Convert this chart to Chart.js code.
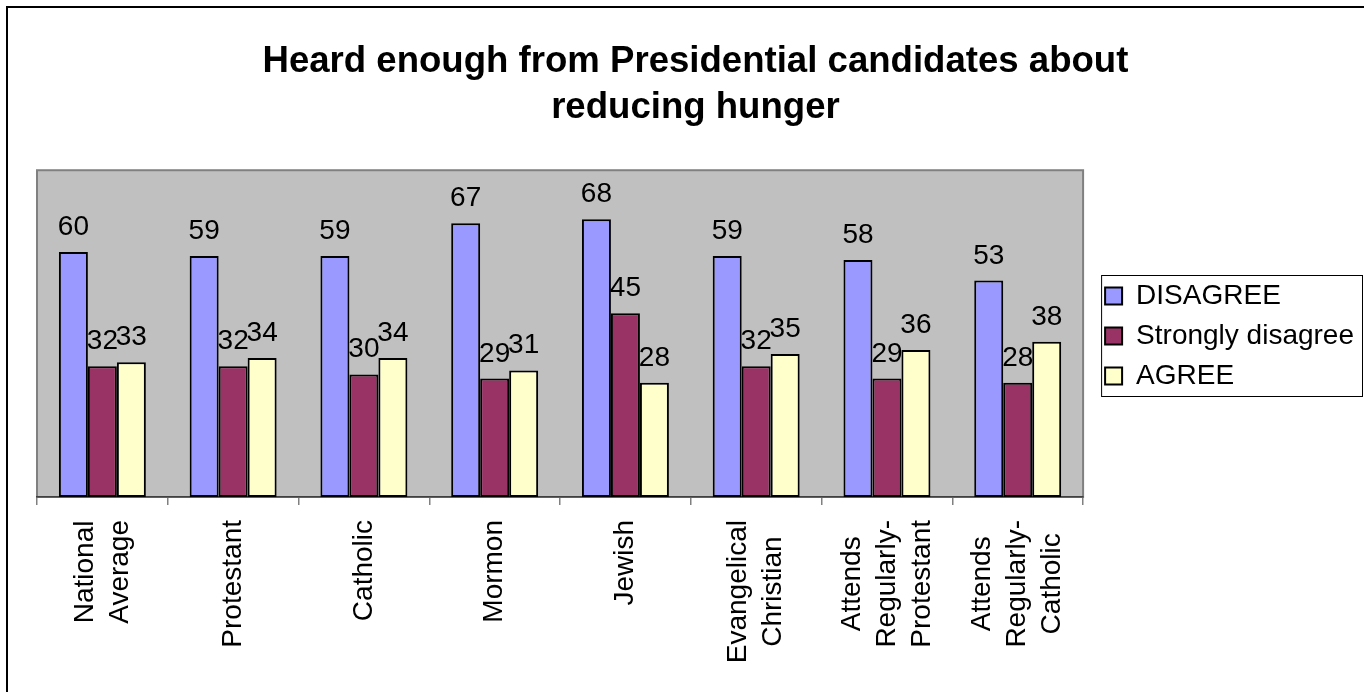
<!DOCTYPE html>
<html>
<head>
<meta charset="utf-8">
<title>Heard enough from Presidential candidates about reducing hunger</title>
<script src="https://cdn.jsdelivr.net/npm/chart.js@4.4.1/dist/chart.umd.min.js"></script>
<style>
  html, body { margin: 0; padding: 0; background: #fff; }
  #wrap { width: 1364px; height: 692px; }
</style>
</head>
<body>
<div id="wrap"><canvas id="chart" width="1364" height="692"></canvas></div>
<script>
const categories = [
    ['National', 'Average'],
    ['Protestant'],
    ['Catholic'],
    ['Mormon'],
    ['Jewish'],
    ['Evangelical', 'Christian'],
    ['Attends', 'Regularly-', 'Protestant'],
    ['Attends', 'Regularly-', 'Catholic']
];
const seriesNames = ['DISAGREE', 'Strongly disagree', 'AGREE'];
const disagree = [60, 59, 59, 67, 68, 59, 58, 53];
const stronglyDisagree = [32, 32, 30, 29, 45, 32, 29, 28];
const agree = [33, 34, 34, 31, 28, 35, 36, 38];
const titleLines = ['Heard enough from Presidential candidates about', 'reducing hunger'];

const FONT = "'Liberation Sans', Arial, sans-serif";

// frame, grey plot area
const backdrop = {
    id: 'backdrop',
    beforeDraw(chart) {
        const { ctx, chartArea: a } = chart;
        ctx.save();
        ctx.fillStyle = '#fff';
        ctx.fillRect(0, 0, chart.width, chart.height);
        ctx.strokeStyle = '#000';
        ctx.lineWidth = 2;
        ctx.beginPath();
        ctx.moveTo(7, chart.height);
        ctx.lineTo(7, 7);
        ctx.lineTo(chart.width, 7);
        ctx.stroke();
        ctx.fillStyle = '#C0C0C0';
        ctx.fillRect(a.left, a.top, a.right - a.left, a.bottom - a.top);
        ctx.strokeStyle = '#808080';
        ctx.lineWidth = 2;
        ctx.strokeRect(a.left, a.top, a.right - a.left, a.bottom - a.top);
        ctx.restore();
    },
    // legend sits a little higher than chart.js centres it
    afterLayout(chart) {
        if (chart.legend) {
            chart.legend.top -= 10;
            chart.legend.bottom -= 10;
        }
    }
};

// numbers over the bars
const valueLabels = {
    id: 'valueLabels',
    afterDatasetsDraw(chart) {
        const ctx = chart.ctx;
        ctx.save();
        ctx.font = '28px ' + FONT;
        ctx.fillStyle = '#000';
        ctx.textAlign = 'center';
        ctx.textBaseline = 'alphabetic';
        chart.data.datasets.forEach((ds, i) => {
            chart.getDatasetMeta(i).data.forEach((bar, j) => {
                ctx.fillText(ds.data[j], bar.x, bar.y - 17);
            });
        });
        ctx.restore();
    }
};

// vertical category names, lines centred on each other
const categoryLabels = {
    id: 'categoryLabels',
    afterDraw(chart) {
        const ctx = chart.ctx;
        const x = chart.scales.x;
        const lineH = 35;
        ctx.save();
        ctx.font = '28px ' + FONT;
        ctx.fillStyle = '#000';
        ctx.textAlign = 'center';
        ctx.textBaseline = 'middle';
        categories.forEach((lines, i) => {
            const cx = x.getPixelForValue(i);
            const maxW = Math.max(...lines.map(l => ctx.measureText(l).width));
            const top = x.top + 23;
            lines.forEach((line, k) => {
                ctx.save();
                ctx.translate(cx + (k - (lines.length - 1) / 2) * lineH, top + maxW / 2);
                ctx.rotate(-Math.PI / 2);
                ctx.fillText(line, 0, 0);
                ctx.restore();
            });
        });
        ctx.restore();
    }
};

// box round the legend
const legendBox = {
    id: 'legendBox',
    afterDraw(chart) {
        const boxes = chart.legend.legendHitBoxes;
        if (!boxes || !boxes.length) return;
        const ctx = chart.ctx;
        const first = boxes[0];
        const last = boxes[boxes.length - 1];
        const w = Math.max(...boxes.map(b => b.width));
        const x1 = first.left - 4;
        const y1 = first.top - 7;
        const x2 = Math.min(chart.width - 1, first.left + w + 8);
        const y2 = last.top + last.height + 6;
        ctx.save();
        ctx.strokeStyle = '#000';
        ctx.lineWidth = 1;
        ctx.strokeRect(x1 + 0.5, y1 + 0.5, x2 - x1, y2 - y1);
        ctx.restore();
    }
};

new Chart(document.getElementById('chart'), {
    type: 'bar',
    data: {
        labels: categories,
        datasets: [
            { label: seriesNames[0], data: disagree, backgroundColor: '#9999FF' },
            { label: seriesNames[1], data: stronglyDisagree, backgroundColor: '#993366' },
            { label: seriesNames[2], data: agree, backgroundColor: '#FFFFCC' }
        ].map(d => Object.assign(d, { borderColor: '#000', borderWidth: 2, borderSkipped: false }))
    },
    options: {
        responsive: false,
        animation: false,
        devicePixelRatio: 1,
        layout: { padding: { left: 37, right: 0, top: 0, bottom: 0 } },
        datasets: { bar: { categoryPercentage: 0.665, barPercentage: 1 } },
        scales: {
            x: {
                grid: { display: true, drawOnChartArea: false, drawTicks: true, tickLength: 8, color: '#808080', lineWidth: 1.5 },
                border: { display: true, color: '#404040', width: 1.5 },
                ticks: { display: false },
                afterFit(s) { s.height = 195; }
            },
            y: {
                position: 'right',
                min: 0,
                max: 80,
                grid: { display: false },
                border: { display: false },
                ticks: { display: false },
                afterFit(s) { s.width = 10; }
            }
        },
        plugins: {
            title: {
                display: true,
                // trailing space nudges the centred title a few px left, as in the original
                text: titleLines.map(t => t + ' '),
                color: '#000',
                font: { family: FONT, size: 36.6, weight: 'bold', lineHeight: 1.26 },
                padding: { top: 39, bottom: 39 }
            },
            legend: {
                position: 'right',
                labels: {
                    color: '#000',
                    font: { family: FONT, size: 28 },
                    boxWidth: 17,
                    boxHeight: 17,
                    padding: 12
                }
            },
            tooltip: { enabled: false }
        }
    },
    plugins: [backdrop, valueLabels, categoryLabels, legendBox]
});
</script>
</body>
</html>
